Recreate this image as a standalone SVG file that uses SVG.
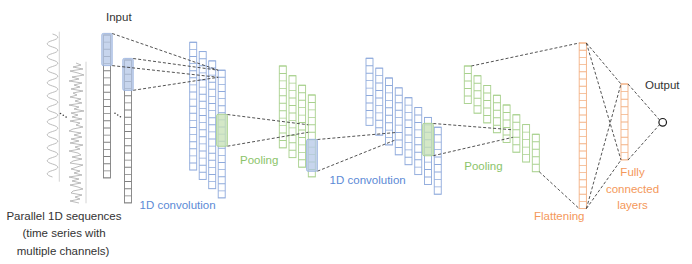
<svg xmlns="http://www.w3.org/2000/svg" width="692" height="264" viewBox="0 0 692 264">
<style>
text{font-family:"Liberation Sans",Arial,sans-serif;font-size:11.5px}
.col{fill:#fff;stroke-width:0.9}
.gray{stroke:#808080}
.blue{stroke:#8FAADC}
.green{stroke:#A9D18E}
.orange{stroke:#F4B183}
.dv{fill:none;stroke-width:7}
.h715{stroke-dasharray:0.9 6.25}
.h71{stroke-dasharray:0.9 6.2}
.h745{stroke-dasharray:0.9 6.55}
.h75{stroke-dasharray:0.9 6.6}
.h72{stroke-dasharray:0.9 6.3;stroke-width:7.2}
.h76{stroke-dasharray:0.9 6.7}
.hl-blue{fill:#B4C7E7;fill-opacity:0.75;stroke:#9DB5E0;stroke-width:0.9}
.hl-green{fill:#C5E0B4;fill-opacity:0.75;stroke:#A9D18E;stroke-width:0.9}
.dash{fill:none;stroke:#404040;stroke-width:0.9;stroke-dasharray:3 2}
.wave{fill:none;stroke:#ABABAB;stroke-width:0.8;stroke-linejoin:round}
.axis{stroke:#CFCFCF;stroke-width:0.9}
.t-blue{fill:#5B8AD6}
.t-green{fill:#8BC46A}
.t-orange{fill:#F4985A}
.t-dark{fill:#333}
</style>

<g id="sequences">
  <line class="axis" x1="59.3" y1="31.7" x2="59.3" y2="181.7"/>
  <line class="axis" x1="86" y1="61.7" x2="86" y2="203.3"/>
  <path class="wave" d="M52.5 34 c7 2 7 4.5 0 6.5 s-7 4.5 0 6.5 s7 4.5 0 6.5 s-7 4.5 0 6.5 s7 4.5 0 6.5 s-7 4.5 0 6.5 s7 4.5 0 6.5 s-7 4.5 0 6.5 s7 4.5 0 6.5 s-7 4.5 0 6.5 s7 4.5 0 6.5 s-7 4.5 0 6.5 s7 4.5 0 6.5 s-7 4.5 0 6.5 s7 4.5 0 6.5 s-7 4.5 0 6.5 s7 4.5 0 6.5 s-7 4.5 0 6.5 s7 4.5 0 6.5 s-7 4.5 0 6.5 s7 4.5 0 6.5 s-7 4.5 0 6.5"/>
  <polyline class="wave" points="76,63 81,65 73,67 83,69 70,71 78,73 84,75 72,77 79,79 69,81 82,83 74,85 80,87 71,89 83,91 73,93 77,95 70,97 81,99 75,101 82,103 69,105 79,107 74,109 84,111 71,113 78,115 72,117 82,119 70,121 80,123 76,125 83,127 73,129 69,131 81,133 74,135 82,137 71,139 79,141 70,143 83,145 75,147 80,149 69,151 78,153 81,155 72,157 82,159 73,161 70,163 83,165 77,167 71,169 80,171 74,173 82,175 69,177 79,179 72,181 81,183 70,185 78,187 83,189 73,191 71,193 82,195 75,197 80,199 70,201 79,203"/>
  <g fill="#404040">
    <circle cx="60.5" cy="113.5" r="0.8"/><circle cx="63.3" cy="115.3" r="0.8"/><circle cx="66.1" cy="117.1" r="0.8"/>
  </g>
  <text class="t-dark" x="64" y="219.5" text-anchor="middle">Parallel 1D sequences</text>
  <text class="t-dark" x="64" y="237" text-anchor="middle">(time series with</text>
  <text class="t-dark" x="63" y="254.5" text-anchor="middle">multiple channels)</text>
</g>

<g id="input">
  <rect class="col gray" x="103.5" y="35" width="7" height="143"/>
  <line class="dv gray h715" x1="107" y1="34.55" x2="107" y2="178"/>
  <rect class="col gray" x="124.5" y="60" width="7" height="143"/>
  <line class="dv gray h715" x1="128" y1="59.55" x2="128" y2="203"/>
  <rect class="hl-blue" x="101.8" y="33.4" width="10.4" height="32.2" rx="1.5"/>
  <rect class="hl-blue" x="122.8" y="58.4" width="10.4" height="32" rx="1.5"/>
  <g fill="#404040">
    <circle cx="115" cy="113.3" r="0.8"/><circle cx="117.7" cy="115" r="0.8"/><circle cx="120.4" cy="116.7" r="0.8"/>
  </g>
  <text class="t-dark" x="106" y="21">Input</text>
</g>

<g id="conv1">
  <rect class="col blue" x="189.7" y="42.3" width="7" height="127.8"/>
  <line class="dv blue h71" x1="193.2" y1="41.85" x2="193.2" y2="170.1"/>
  <rect class="col blue" x="199.2" y="51.6" width="7" height="127.8"/>
  <line class="dv blue h71" x1="202.7" y1="51.15" x2="202.7" y2="179.4"/>
  <rect class="col blue" x="208.7" y="60.9" width="7" height="127.8"/>
  <line class="dv blue h71" x1="212.2" y1="60.45" x2="212.2" y2="188.7"/>
  <rect class="col blue" x="218.2" y="70.2" width="7" height="127.8"/>
  <line class="dv blue h71" x1="221.7" y1="69.75" x2="221.7" y2="198"/>
  <rect class="hl-green" x="216.6" y="114.3" width="10.8" height="32" rx="1.5"/>
  <text class="t-blue" x="139.5" y="209">1D convolution</text>
</g>

<g id="pool1">
  <rect class="col green" x="279.3" y="66" width="7" height="81.95"/>
  <line class="dv green h745" x1="282.8" y1="65.55" x2="282.8" y2="147.95"/>
  <rect class="col green" x="289" y="75.7" width="7" height="81.95"/>
  <line class="dv green h745" x1="292.5" y1="75.25" x2="292.5" y2="157.65"/>
  <rect class="col green" x="298.6" y="85.3" width="7" height="81.95"/>
  <line class="dv green h745" x1="302.1" y1="84.85" x2="302.1" y2="167.25"/>
  <rect class="col green" x="308.3" y="95" width="7" height="81.95"/>
  <line class="dv green h745" x1="311.8" y1="94.55" x2="311.8" y2="176.95"/>
  <rect class="hl-blue" x="306.6" y="139.3" width="10.8" height="32" rx="1.5"/>
  <text class="t-green" x="240" y="164">Pooling</text>
</g>

<g id="conv2">
  <rect class="col blue" x="366" y="58.3" width="7" height="67.05"/>
  <line class="dv blue h745" x1="369.5" y1="57.85" x2="369.5" y2="125.35"/>
  <rect class="col blue" x="375.75" y="68.15" width="7" height="67.05"/>
  <line class="dv blue h745" x1="379.25" y1="67.7" x2="379.25" y2="135.2"/>
  <rect class="col blue" x="385.5" y="78" width="7" height="67.05"/>
  <line class="dv blue h745" x1="389" y1="77.55" x2="389" y2="145.05"/>
  <rect class="col blue" x="395.25" y="87.85" width="7" height="67.05"/>
  <line class="dv blue h745" x1="398.75" y1="87.4" x2="398.75" y2="154.9"/>
  <rect class="col blue" x="405" y="97.7" width="7" height="67.05"/>
  <line class="dv blue h745" x1="408.5" y1="97.25" x2="408.5" y2="164.75"/>
  <rect class="col blue" x="414.75" y="107.55" width="7" height="67.05"/>
  <line class="dv blue h745" x1="418.25" y1="107.1" x2="418.25" y2="174.6"/>
  <rect class="col blue" x="424.5" y="117.4" width="7" height="67.05"/>
  <line class="dv blue h745" x1="428" y1="116.95" x2="428" y2="184.45"/>
  <rect class="col blue" x="434.25" y="127.25" width="7" height="67.05"/>
  <line class="dv blue h745" x1="437.75" y1="126.8" x2="437.75" y2="194.3"/>
  <rect class="hl-green" x="422.7" y="123.3" width="10.6" height="32.5" rx="1.5"/>
  <text class="t-blue" x="405.7" y="184" text-anchor="end">1D convolution</text>
</g>

<g id="pool2">
  <rect class="col green" x="464.3" y="66" width="7" height="37.5"/>
  <line class="dv green h75" x1="467.8" y1="65.55" x2="467.8" y2="103.5"/>
  <rect class="col green" x="474" y="75.76" width="7" height="37.5"/>
  <line class="dv green h75" x1="477.5" y1="75.31" x2="477.5" y2="113.26"/>
  <rect class="col green" x="483.7" y="85.5" width="7" height="37.5"/>
  <line class="dv green h75" x1="487.2" y1="85.05" x2="487.2" y2="123"/>
  <rect class="col green" x="493.4" y="95.3" width="7" height="37.5"/>
  <line class="dv green h75" x1="496.9" y1="94.85" x2="496.9" y2="132.8"/>
  <rect class="col green" x="503.1" y="105" width="7" height="37.5"/>
  <line class="dv green h75" x1="506.6" y1="104.55" x2="506.6" y2="142.5"/>
  <rect class="col green" x="512.85" y="114.8" width="7" height="37.5"/>
  <line class="dv green h75" x1="516.35" y1="114.35" x2="516.35" y2="152.3"/>
  <rect class="col green" x="522.6" y="124.6" width="7" height="37.5"/>
  <line class="dv green h75" x1="526.1" y1="124.15" x2="526.1" y2="162.1"/>
  <rect class="col green" x="532.3" y="134.3" width="7" height="37.5"/>
  <line class="dv green h75" x1="535.8" y1="133.85" x2="535.8" y2="171.8"/>
  <text class="t-green" x="464.3" y="170">Pooling</text>
</g>

<g id="flatten">
  <rect class="col orange" x="579.2" y="43" width="7.2" height="165.6"/>
  <line class="dv orange h72" x1="582.8" y1="42.55" x2="582.8" y2="208.6"/>
  <text class="t-orange" x="534" y="220">Flattening</text>
</g>

<g id="fully-connected">
  <rect class="col orange" x="621" y="84" width="7" height="76"/>
  <line class="dv orange h76" x1="624.5" y1="83.55" x2="624.5" y2="160"/>
  <text class="t-orange" x="632.5" y="176" text-anchor="middle">Fully</text>
  <text class="t-orange" x="632.5" y="192.5" text-anchor="middle">connected</text>
  <text class="t-orange" x="632.5" y="208.5" text-anchor="middle">layers</text>
</g>

<g id="output">
  <circle cx="662.7" cy="122.3" r="3.8" fill="#fff" stroke="#1a1a1a" stroke-width="1.2"/>
  <text class="t-dark" x="645" y="89">Output</text>
</g>

<g id="connectors">
  <line class="dash" x1="112.2" y1="33.5" x2="218.2" y2="70.2"/>
  <line class="dash" x1="112.2" y1="65.6" x2="218.2" y2="77.3"/>
  <line class="dash" x1="133.2" y1="58.5" x2="218.2" y2="70.2"/>
  <line class="dash" x1="133.2" y1="90.3" x2="218.2" y2="77.3"/>
  <line class="dash" x1="227.4" y1="114.5" x2="308.3" y2="124.8"/>
  <line class="dash" x1="227.4" y1="146.2" x2="308.3" y2="132.25"/>
  <line class="dash" x1="317.4" y1="139.5" x2="395.25" y2="132.55"/>
  <line class="dash" x1="317.4" y1="171.2" x2="395.25" y2="140"/>
  <line class="dash" x1="433.3" y1="123.5" x2="512.85" y2="129.8"/>
  <line class="dash" x1="433.3" y1="155.7" x2="512.85" y2="137.3"/>
  <line class="dash" x1="471.3" y1="66" x2="579.2" y2="43"/>
  <line class="dash" x1="539.3" y1="171.8" x2="579.2" y2="208.6"/>
  <line class="dash" x1="586.4" y1="43" x2="621" y2="84"/>
  <line class="dash" x1="586.4" y1="43" x2="621" y2="160"/>
  <line class="dash" x1="586.4" y1="208.6" x2="621" y2="84"/>
  <line class="dash" x1="586.4" y1="208.6" x2="621" y2="160"/>
  <line class="dash" x1="628" y1="84" x2="659.6" y2="120"/>
  <line class="dash" x1="628" y1="160" x2="659.6" y2="124.6"/>
</g>
</svg>
